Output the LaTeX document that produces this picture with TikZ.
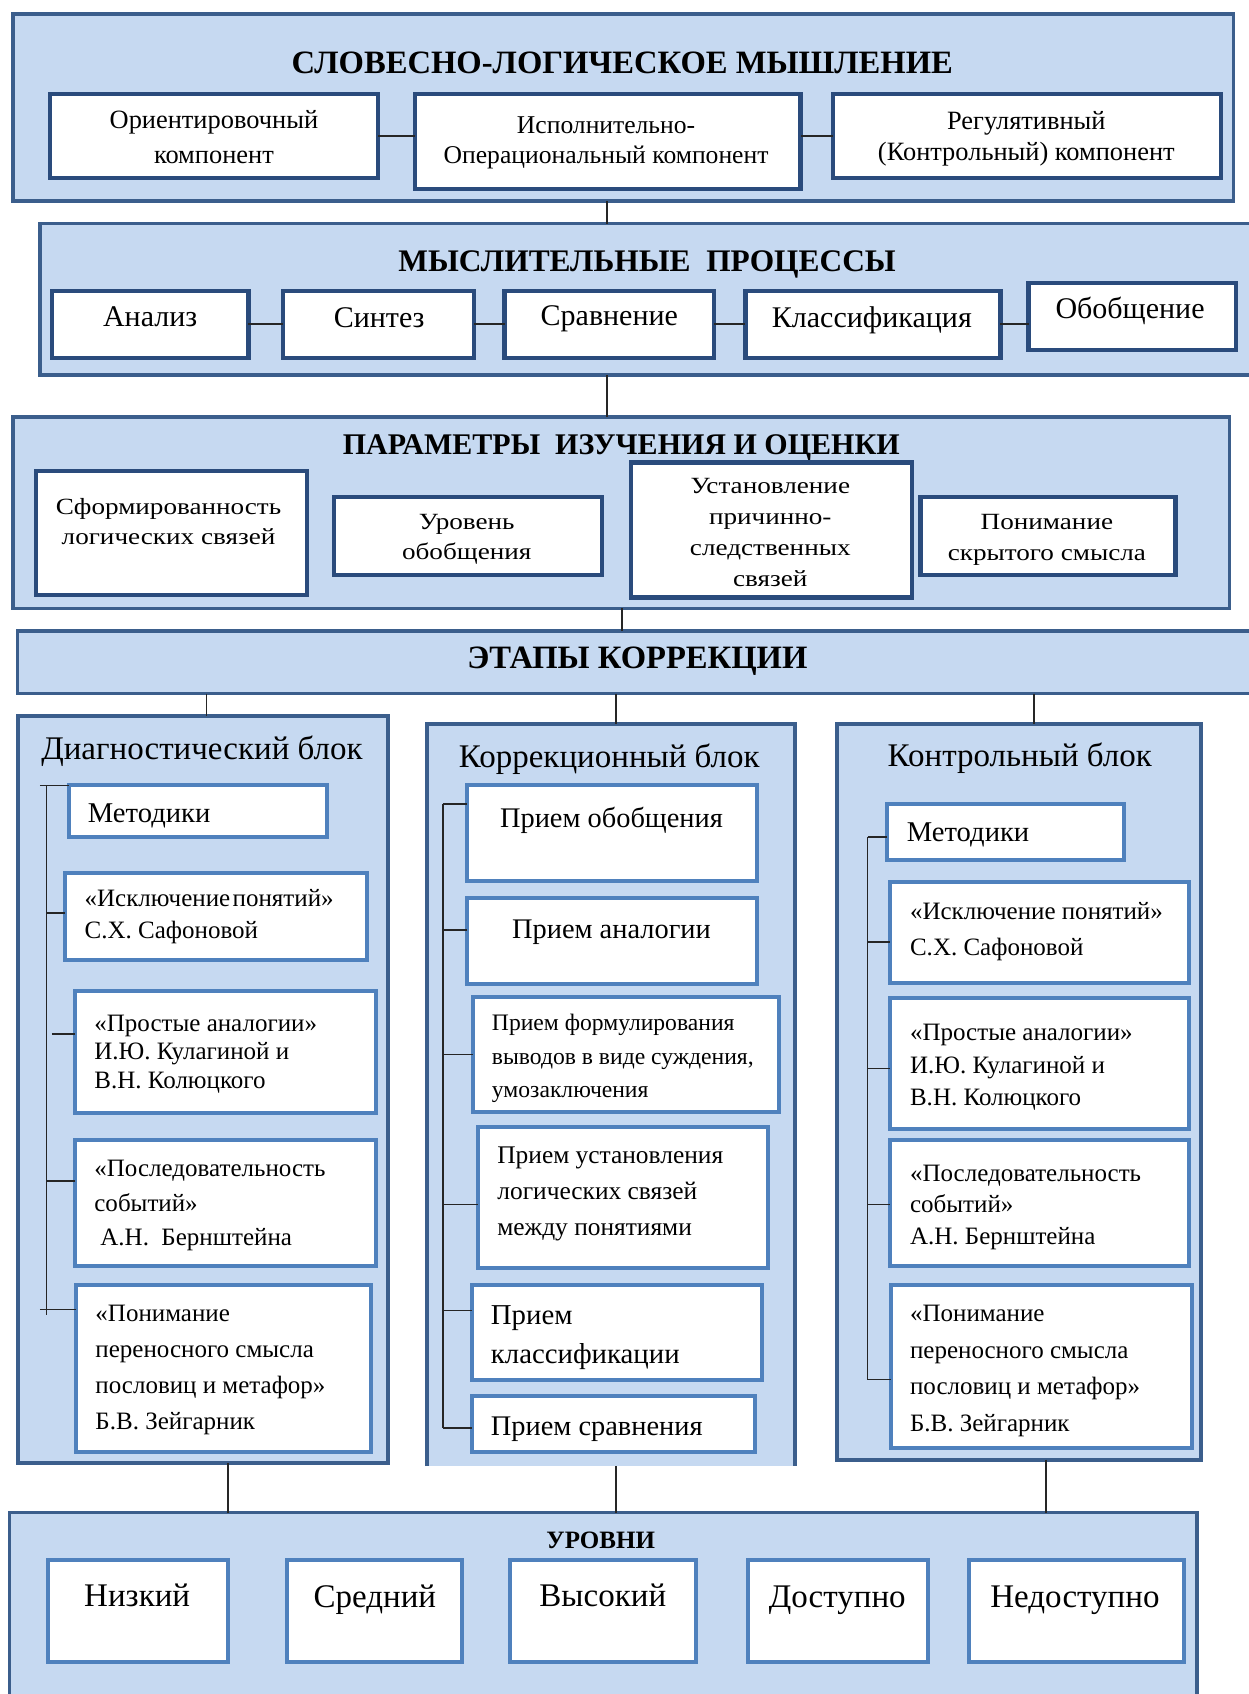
\documentclass[tikz,border=0pt]{standalone}
\usepackage{fontspec}
\setmainfont{Liberation Serif}
\newfontfamily\wideserif[FakeStretch=1.17]{Liberation Serif}
\usetikzlibrary{calc}
\definecolor{fillblue}{HTML}{C6D9F1}
\definecolor{secline}{HTML}{3B5E8C}
\definecolor{darkline}{HTML}{2A4B7C}
\definecolor{midline}{HTML}{4F81BD}
\newcommand\fs[2]{\fontsize{#1}{#2}\selectfont}
\newcommand\bx[6]{\node[#2, anchor=north west, inner sep=0pt, outer sep=0pt, minimum width={(#5-#3)*0.54pt}, minimum height={(#6-#4)*0.54pt}] (#1) at (#3,#4) {};}
\begin{document}
\begin{tikzpicture}[x=0.54pt,y=-0.54pt,
  section/.style={draw=secline, fill=fillblue, line width=1.65pt},
  block/.style={draw=secline, fill=fillblue, line width=2pt},
  upbox/.style={draw=darkline, fill=white, line width=2.1pt},
  lowbox/.style={draw=midline, fill=white, line width=2pt},
  conn/.style={draw=black!85, line width=0.8pt},
  txt/.style={inner sep=0pt, align=center},
  ltxt/.style={inner sep=0pt, align=left, anchor=west},
  dn/.style={yshift=-1.62pt},
  dnn/.style={yshift=-2.16pt},
]
\useasboundingbox (0,0) rectangle (1156,1568);
\clip (0,0) rectangle (1156,1568);
\fill[white] (0,0) rectangle (1156,1568);

% ---------- Section 1
\bx{s1}{section}{12}{13}{1142}{186}
\node[txt, dn, font=\bfseries\fs{16.3}{20}] (t1) at (576,55) {СЛОВЕСНО-ЛОГИЧЕСКОЕ МЫШЛЕНИЕ};
\bx{a1}{upbox}{46}{87}{350}{165}
\node[txt, font=\fs{13.2}{17.3}] (ta1) at (198,127) {Ориентировочный\\компонент};
\bx{a2}{upbox}{384}{87}{741}{175}
\node[txt, dn, font=\fs{12.8}{15.1}] (ta2) at (561,129) {Исполнительно-\\Операциональный компонент};
\bx{a3}{upbox}{771}{87}{1130}{165}
\node[txt, dn, font=\fs{13.2}{15.7}] (ta3) at (950,125.5) {Регулятивный\\(Контрольный) компонент};
\draw[conn] (a1.east) -- (a1.east -| a2.west);
\draw[conn] (a3.west) -- (a3.west -| a2.east);

% ---------- Section 2
\bx{s2}{section}{37}{207}{1175}{347}
\node[txt, dn, font=\bfseries\fs{15.7}{19}] (t2) at (599,242) {МЫСЛИТЕЛЬНЫЕ\ \ ПРОЦЕССЫ};
\bx{b1}{upbox}{48}{269}{230}{331}
\bx{b2}{upbox}{262}{269}{439}{331}
\bx{b3}{upbox}{467}{269}{661}{331}
\bx{b4}{upbox}{690}{269}{926}{331}
\bx{b5}{upbox}{952}{262}{1144}{324}
\node[txt, font=\fs{15}{18}] (tb1) at (139,293) {Анализ};
\node[txt, dn, font=\fs{15}{18}] (tb2) at (351,291) {Синтез};
\node[txt, dn, font=\fs{15}{18}] (tb3) at (564,292) {Сравнение};
\node[txt, dn, font=\fs{15}{18}] (tb4) at (807,293) {Классификация};
\node[txt, dn, font=\fs{15}{18}] (tb5) at (1046,285) {Обобщение};
\draw[conn] (b1.east) -- (b2.west);
\draw[conn] (b2.east) -- (b3.west);
\draw[conn] (b3.east) -- (b4.west);
\draw[conn] (b4.east) -- (b4.east -| b5.west);

% ---------- Section 3
\bx{s3}{section}{12}{386}{1138}{563}
\node[txt, dn, font=\bfseries\fs{15}{18}] (t3) at (575,411) {ПАРАМЕТРЫ\ \ ИЗУЧЕНИЯ И ОЦЕНКИ};
\bx{c1}{upbox}{33}{436}{284}{551}
\bx{c2}{upbox}{309}{460}{557}{532}
\bx{c3}{upbox}{584}{428}{844}{553}
\bx{c4}{upbox}{852}{460}{1088}{532}
\node[txt, font=\wideserif\fs{11.6}{15.1}] (tc1) at (156,483) {Сформированность\\логических связей};
\node[txt, dn, font=\wideserif\fs{11.6}{15.1}] (tc2) at (432,496) {Уровень\\обобщения};
\node[txt, font=\wideserif\fs{11.6}{15.5}] (tc3) at (713,493) {Установление\\причинно-\\следственных\\связей};
\node[txt, dn, font=\wideserif\fs{11.6}{15.6}] (tc4) at (969,496.5) {Понимание\\скрытого смысла};

% ---------- Section 4
\bx{s4}{section}{16}{584}{1175}{642}
\node[txt, dn, font=\bfseries\fs{16.3}{20}] (t4) at (590,609) {ЭТАПЫ КОРРЕКЦИИ};

% ---------- Diagnostic block
\bx{D}{block}{17}{663}{359}{1354}
\node[txt, dn, font=\fs{16.5}{20}] (tD) at (187,692) {Диагностический блок};
\bx{d1}{lowbox}{64}{727}{303}{775}
\bx{d2}{lowbox}{60}{808}{340}{889}
\bx{d3}{lowbox}{69}{917}{348}{1030}
\bx{d4}{lowbox}{69}{1055}{348}{1172}
\bx{d5}{lowbox}{70}{1189}{343}{1344}
\node[ltxt, dn, font=\fs{14.3}{17}] (td1) at (81,752) {Методики};
\node[ltxt, dn, font=\fs{12.5}{15.7}] (td2) at (78,845.5) {«Исключение\hspace{0.1em}понятий»\\С.Х. Сафоновой};
\node[ltxt, dn, font=\fs{12.5}{14.3}] (td3) at (87,972.5) {«Простые аналогии»\\И.Ю. Кулагиной и\\В.Н. Колюцкого};
\node[ltxt, dn, font=\fs{12.5}{17.3}] (td4) at (87,1113) {«Последовательность\\событий»\\\hspace*{3pt}А.Н.\ \ Бернштейна};
\node[ltxt, dn, font=\fs{12.5}{18}] (td5) at (88,1265) {«Понимание\\переносного смысла\\пословиц и метафор»\\Б.В. Зейгарник};
\coordinate (dsp) at (43,727);
\coordinate (dsq) at (43,1217);
\draw[conn] (dsp) -- (dsq);
\coordinate (dt1) at (37,727);
\coordinate (dt2) at (43,845);
\coordinate (dt3) at (48,957);
\coordinate (dt4) at (43,1093);
\coordinate (dt5) at (37,1212);
\draw[conn] (dt1) -- (d1.north west);
\draw[conn] (dt2) -- (dt2 -| d2.west);
\draw[conn] (dt3) -- (dt3 -| d3.west);
\draw[conn] (dt4) -- (dt4 -| d4.west);
\draw[conn] (dt5) -- (dt5 -| d5.west);

% ---------- Correction block
\bx{C}{fill=fillblue}{395}{670}{736}{1357}
\draw[secline, line width=2pt] (C.south west) -- (C.north west) -- (C.north east) -- (C.south east);
\node[txt, dn, font=\fs{16.5}{20}] (tC) at (564,700) {Коррекционный блок};
\bx{e1}{lowbox}{432}{727}{701}{815}
\bx{e2}{lowbox}{432}{831}{701}{911}
\bx{e3}{lowbox}{438}{923}{721}{1029}
\bx{e4}{lowbox}{442}{1043}{711}{1174}
\bx{e5}{lowbox}{437}{1189}{705}{1277}
\bx{e6}{lowbox}{437}{1292}{699}{1344}
\node[txt, dn, font=\fs{14.2}{17}] (te1) at (566,756) {Прием обобщения};
\node[txt, dn, font=\fs{14.2}{17}] (te2) at (566,860) {Прием аналогии};
\node[ltxt, dn, font=\fs{11.8}{16.7}] (te3) at (455,977) {Прием формулирования\\выводов в виде суждения,\\умозаключения};
\node[ltxt, dn, font=\fs{12.7}{17.8}] (te4) at (460,1102) {Прием установления\\логических связей\\между понятиями};
\node[ltxt, dn, font=\fs{14.4}{19.4}] (te5) at (454,1235) {Прием\\классификации};
\node[ltxt, dn, font=\fs{14.2}{17}] (te6) at (454,1320) {Прием сравнения};
\coordinate (csp) at (410,744);
\coordinate (csq) at (410,1322);
\draw[conn] (csp) -- (csq);
\coordinate (ct2) at (410,861);
\coordinate (ct3) at (410,976);
\coordinate (ct4) at (410,1115);
\coordinate (ct5) at (410,1213);
\draw[conn] (csp) -- (csp -| e1.west);
\draw[conn] (ct2) -- (ct2 -| e2.west);
\draw[conn] (ct3) -- (ct3 -| e3.west);
\draw[conn] (ct4) -- (ct4 -| e4.west);
\draw[conn] (ct5) -- (ct5 -| e5.west);
\draw[conn] (csq) -- (csq -| e6.west);

% ---------- Control block
\bx{K}{block}{775}{670}{1112}{1351}
\node[txt, dn, font=\fs{16.5}{20}] (tK) at (944,699) {Контрольный блок};
\bx{k1}{lowbox}{821}{744}{1040}{796}
\bx{k2}{lowbox}{824}{816}{1101}{910}
\bx{k3}{lowbox}{824}{924}{1101}{1045}
\bx{k4}{lowbox}{824}{1055}{1101}{1172}
\bx{k5}{lowbox}{825}{1189}{1103}{1340}
\node[ltxt, dn, font=\fs{14.3}{17}] (tk1) at (839,770) {Методики};
\node[ltxt, dn, font=\fs{12.5}{17.8}] (tk2) at (842,859.5) {«Исключение понятий»\\С.Х. Сафоновой};
\node[ltxt, dn, font=\fs{12.5}{16.2}] (tk3) at (842,985) {«Простые аналогии»\\И.Ю. Кулагиной и\\В.Н. Колюцкого};
\node[ltxt, dn, font=\fs{12.5}{15.9}] (tk4) at (842,1114.5) {«Последовательность\\событий»\\А.Н. Бернштейна};
\node[ltxt, dn, font=\fs{12.5}{18.2}] (tk5) at (842,1266) {«Понимание\\переносного смысла\\пословиц и метафор»\\Б.В. Зейгарник};
\coordinate (ksp) at (803,775);
\coordinate (ksq) at (803,1277);
\draw[conn] (ksp) -- (ksq);
\coordinate (kt2) at (803,872);
\coordinate (kt3) at (803,989);
\coordinate (kt4) at (803,1115);
\draw[conn] (ksp) -- (ksp -| k1.west);
\draw[conn] (kt2) -- (kt2 -| k2.west);
\draw[conn] (kt3) -- (kt3 -| k3.west);
\draw[conn] (kt4) -- (kt4 -| k4.west);
\draw[conn] (ksq) -- (ksq -| k5.west);

% ---------- Section 5
\bx{L}{section}{9}{1400}{1108}{1590}
\node[txt, dn, font=\bfseries\fs{12.5}{15}] (tL) at (556,1423) {УРОВНИ};
\bx{l1}{lowbox}{44}{1444}{211}{1538}
\bx{l2}{lowbox}{266}{1444}{428}{1538}
\bx{l3}{lowbox}{472}{1444}{644}{1538}
\bx{l4}{lowbox}{692}{1444}{859}{1538}
\bx{l5}{lowbox}{897}{1444}{1096}{1538}
\node[txt, font=\fs{16.5}{20}] (tl1) at (127,1477) {Низкий};
\node[txt, dnn, font=\fs{16.5}{20}] (tl2) at (347,1477) {Средний};
\node[txt, font=\fs{16.5}{20}] (tl3) at (558,1477) {Высокий};
\node[txt, dnn, font=\fs{16.5}{20}] (tl4) at (775,1477) {Доступно};
\node[txt, dnn, font=\fs{16.5}{20}] (tl5) at (995,1477) {Недоступно};

% ---------- vertical connectors between sections
\coordinate (v1) at (562,0);
\coordinate (v2) at (576,0);
\coordinate (v3) at (191,0);
\coordinate (v4) at (570,0);
\coordinate (v5) at (957,0);
\coordinate (v6) at (211,0);
\coordinate (v7) at (968,0);
\draw[conn] (s1.south -| v1) -- (s2.north -| v1);
\draw[conn] (s2.south -| v1) -- (s3.north -| v1);
\draw[conn] (s3.south -| v2) -- (s4.north -| v2);
\draw[conn] (s4.south -| v3) -- (D.north -| v3);
\draw[conn] (s4.south -| v4) -- (C.north -| v4);
\draw[conn] (s4.south -| v5) -- (K.north -| v5);
\draw[conn] (D.south -| v6) -- (L.north -| v6);
\draw[conn] (C.south -| v4) -- (L.north -| v4);
\draw[conn] (K.south -| v7) -- (L.north -| v7);
\end{tikzpicture}
\end{document}
